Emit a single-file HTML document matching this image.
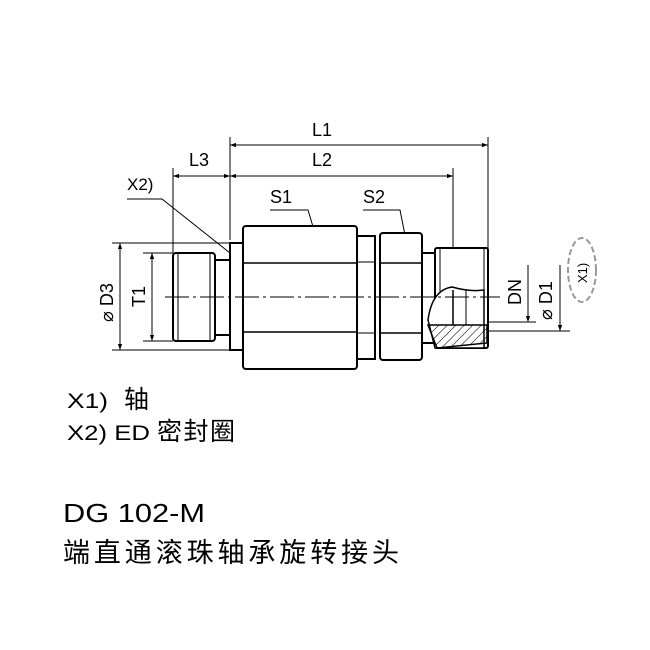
<!DOCTYPE html>
<html><head><meta charset="utf-8"><style>
html,body{margin:0;padding:0;background:#fff;width:650px;height:650px;overflow:hidden}
svg{display:block}
text{font-family:"Liberation Sans","Noto Sans CJK SC",sans-serif;fill:#000}
</style></head><body>
<svg width="650" height="650" viewBox="0 0 650 650" xmlns="http://www.w3.org/2000/svg">
<defs>
<marker id="a" viewBox="0 0 10 10" refX="10" refY="5" markerWidth="18" markerHeight="6" markerUnits="userSpaceOnUse" orient="auto-start-reverse"><path d="M0,1.5 L10,5 L0,8.5 Z" fill="#000"/></marker>
<pattern id="h" width="6" height="6" patternUnits="userSpaceOnUse" patternTransform="rotate(45)"><line x1="0" y1="0" x2="0" y2="6" stroke="#000" stroke-width="1"/></pattern>
</defs>
<g stroke="#000" fill="none" stroke-width="1">
<line x1="230" y1="137" x2="230" y2="240"/>
<line x1="173" y1="168" x2="173" y2="253"/>
<line x1="488" y1="137" x2="488" y2="250"/>
<line x1="453" y1="168" x2="453" y2="300"/>
<line x1="230" y1="145" x2="488" y2="145" marker-start="url(#a)" marker-end="url(#a)"/>
<line x1="230" y1="176" x2="453" y2="176" marker-start="url(#a)" marker-end="url(#a)"/>
<line x1="173" y1="176" x2="230" y2="176" marker-start="url(#a)" marker-end="url(#a)"/>
<line x1="112" y1="243" x2="230" y2="243"/>
<line x1="112" y1="350" x2="230" y2="350"/>
<line x1="120" y1="243" x2="120" y2="350" marker-start="url(#a)" marker-end="url(#a)"/>
<line x1="143" y1="253" x2="173" y2="253"/>
<line x1="143" y1="341" x2="173" y2="341"/>
<line x1="152" y1="253" x2="152" y2="341" marker-start="url(#a)" marker-end="url(#a)"/>
<line x1="453" y1="322" x2="536" y2="322"/>
<line x1="488" y1="331" x2="570" y2="331"/>
<line x1="528" y1="265" x2="528" y2="322" marker-end="url(#a)"/>
<line x1="560" y1="265" x2="560" y2="331" marker-end="url(#a)"/>
<polyline points="127,199 162,199 230,253"/>
<polyline points="270,210 308,210 320,250"/>
<polyline points="363,210 400,210 408,250"/>
</g>
<g stroke="#000" fill="#fff" stroke-width="2">
<rect x="215" y="260" width="15" height="75"/>
<rect x="173" y="253" width="42" height="88" rx="3"/>
<line x1="178" y1="253" x2="178" y2="341" stroke-width="1"/>
<line x1="210" y1="253" x2="210" y2="341" stroke-width="1"/>
<rect x="230" y="243" width="13" height="107"/>
<rect x="243" y="226" width="114" height="143" rx="3"/>
<line x1="243" y1="263" x2="357" y2="263" stroke-width="1.5"/>
<line x1="243" y1="332" x2="357" y2="332" stroke-width="1.5"/>
<rect x="357" y="236" width="18" height="123"/>
<line x1="357" y1="262" x2="375" y2="262" stroke-width="1"/>
<line x1="357" y1="333" x2="375" y2="333" stroke-width="1"/>
<rect x="380" y="233" width="42" height="127" rx="3"/>
<line x1="380" y1="263" x2="422" y2="263" stroke-width="1.5"/>
<line x1="380" y1="333" x2="422" y2="333" stroke-width="1.5"/>
<rect x="422" y="253" width="13" height="90"/>
<rect x="435" y="248" width="53" height="100" rx="2"/>
<line x1="440" y1="248" x2="440" y2="348" stroke-width="1"/>
<line x1="484" y1="248" x2="484" y2="348" stroke-width="1"/>
</g>
<path d="M428,320 Q432,290 452,287 Q470,292 484,290 L484,348 L435,348 Z" fill="#fff" stroke="#000" stroke-width="1.5"/>
<path d="M428,325 L487,325 L487,343 L437,348 Z" fill="url(#h)" stroke="#000" stroke-width="1.5"/>
<line x1="453" y1="290" x2="453" y2="325" stroke="#000" stroke-width="1.5"/>
<line x1="466" y1="290" x2="466" y2="325" stroke="#000" stroke-width="1"/>
<line x1="165" y1="297" x2="500" y2="297" stroke="#000" stroke-width="1" stroke-dasharray="24,4,3,4"/>
<ellipse cx="582" cy="270" rx="14" ry="32" fill="none" stroke="#999" stroke-width="2" stroke-dasharray="6,3"/>
<text x="0" y="0" font-size="13" transform="translate(587,283) rotate(-90)" fill="#444">X1)</text>
<text x="312" y="136" font-size="18">L1</text>
<text x="312" y="166" font-size="18">L2</text>
<text x="189" y="166" font-size="18">L3</text>
<text x="127" y="190" font-size="17">X2)</text>
<text x="270" y="203" font-size="18">S1</text>
<text x="363" y="203" font-size="18">S2</text>
<text font-size="18" transform="translate(113,322) rotate(-90)">⌀ D3</text>
<text font-size="18" transform="translate(145,307) rotate(-90)">T1</text>
<text font-size="18" transform="translate(521,305) rotate(-90)">DN</text>
<text font-size="18" transform="translate(552,320) rotate(-90)">⌀ D1</text>
<text x="67" y="408" font-size="21" textLength="41" lengthAdjust="spacingAndGlyphs">X1)</text>
<text x="124" y="408" font-size="25">轴</text>
<text x="67" y="440" font-size="21" textLength="83" lengthAdjust="spacingAndGlyphs">X2) ED</text>
<text x="157" y="440" font-size="25" letter-spacing="1.5">密封圈</text>
<text x="63" y="522" font-size="26" textLength="142" lengthAdjust="spacingAndGlyphs">DG 102-M</text>
<text x="63" y="562" font-size="27" letter-spacing="3.9">端直通滚珠轴承旋转接头</text>
</svg>
</body></html>
